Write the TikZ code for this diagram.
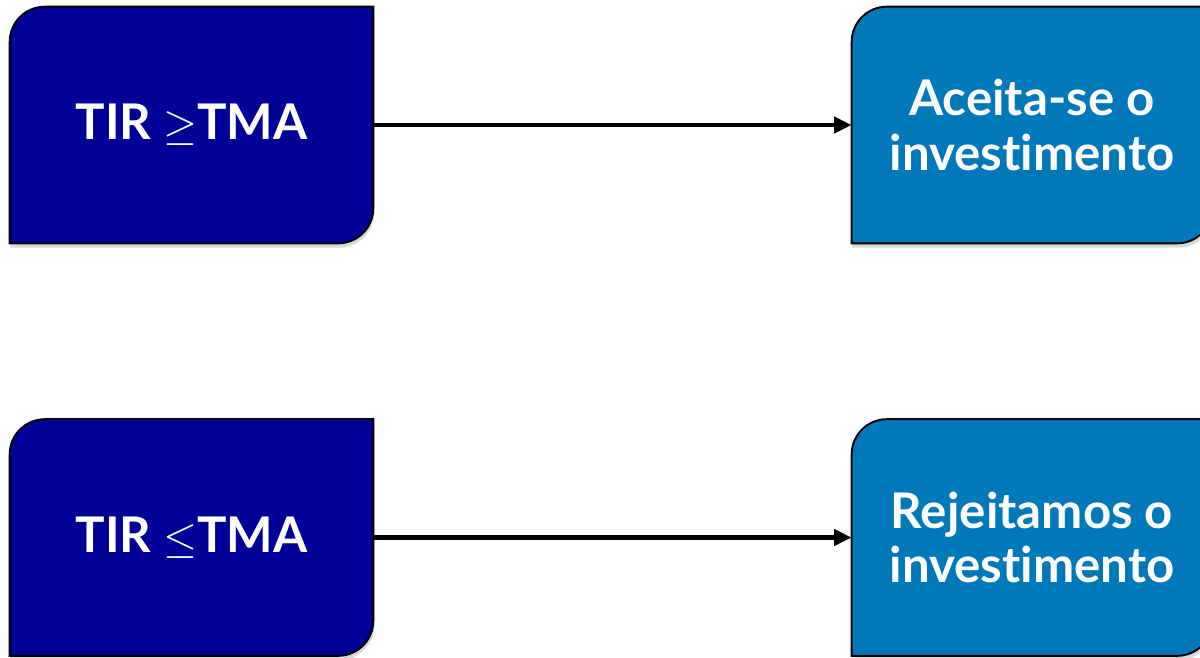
\documentclass[tikz,border=0pt]{standalone}
\usepackage{fontspec}
\setmainfont{Lato}[Ligatures=NoCommon]
\usetikzlibrary{calc,shapes,positioning,backgrounds,shadows}
\usetikzlibrary{arrows.meta}
\definecolor{tirblue}{RGB}{0,0,153}
\definecolor{decblue}{RGB}{0,120,185}

\begin{document}
\begin{tikzpicture}[x=0.02cm,y=-0.02cm]
    \tikzstyle{cnode} = [minimum width=7.26cm, minimum height=4.72cm, inner sep=0pt, align=center, text=white, font=\fontsize{28}{31}\selectfont\bfseries]
    \tikzstyle{dnode} = [cnode, minimum width=7.2cm]
    \tikzstyle{boxline} = [line width=1.1pt, draw=black, drop shadow={shadow xshift=0.6pt, shadow yshift=-2.5pt, opacity=0.3}]
    \tikzstyle{arrow} = [line width=2.8pt, -{Triangle[length=10pt,width=9pt]}]
    \useasboundingbox (0,0) rectangle (1200,657);

    \node[cnode] (c1) at (191.5,125) {TIR $\geq$TMA};
    \node[dnode] (d1) at (1032,125) {Aceita-se o\\investimento};

    \node[cnode] (c2) at (191.5,537.5) {TIR $\leq$TMA};
    \node[dnode] (d2) at (1032,537.5) {Rejeitamos o\\investimento};

    % boxes: round top left and bottom right
    \begin{scope}[on background layer]
    \foreach \n/\col in {c1/tirblue, c2/tirblue, d1/decblue, d2/decblue}
      \draw[boxline, fill=\col] (\n.south west) -- ($(\n.north west)+(0,-20pt)$) arc[start angle=180, end angle=90, radius=20pt] -- (\n.north east) -- ($(\n.south east)+(0,20pt)$) arc[start angle=0, end angle=-90, radius=20pt] -- cycle;
    \end{scope}

    \draw[arrow] (c1) -- (d1);
    \draw[arrow] (c2) -- (d2);
\end{tikzpicture}
\end{document}
